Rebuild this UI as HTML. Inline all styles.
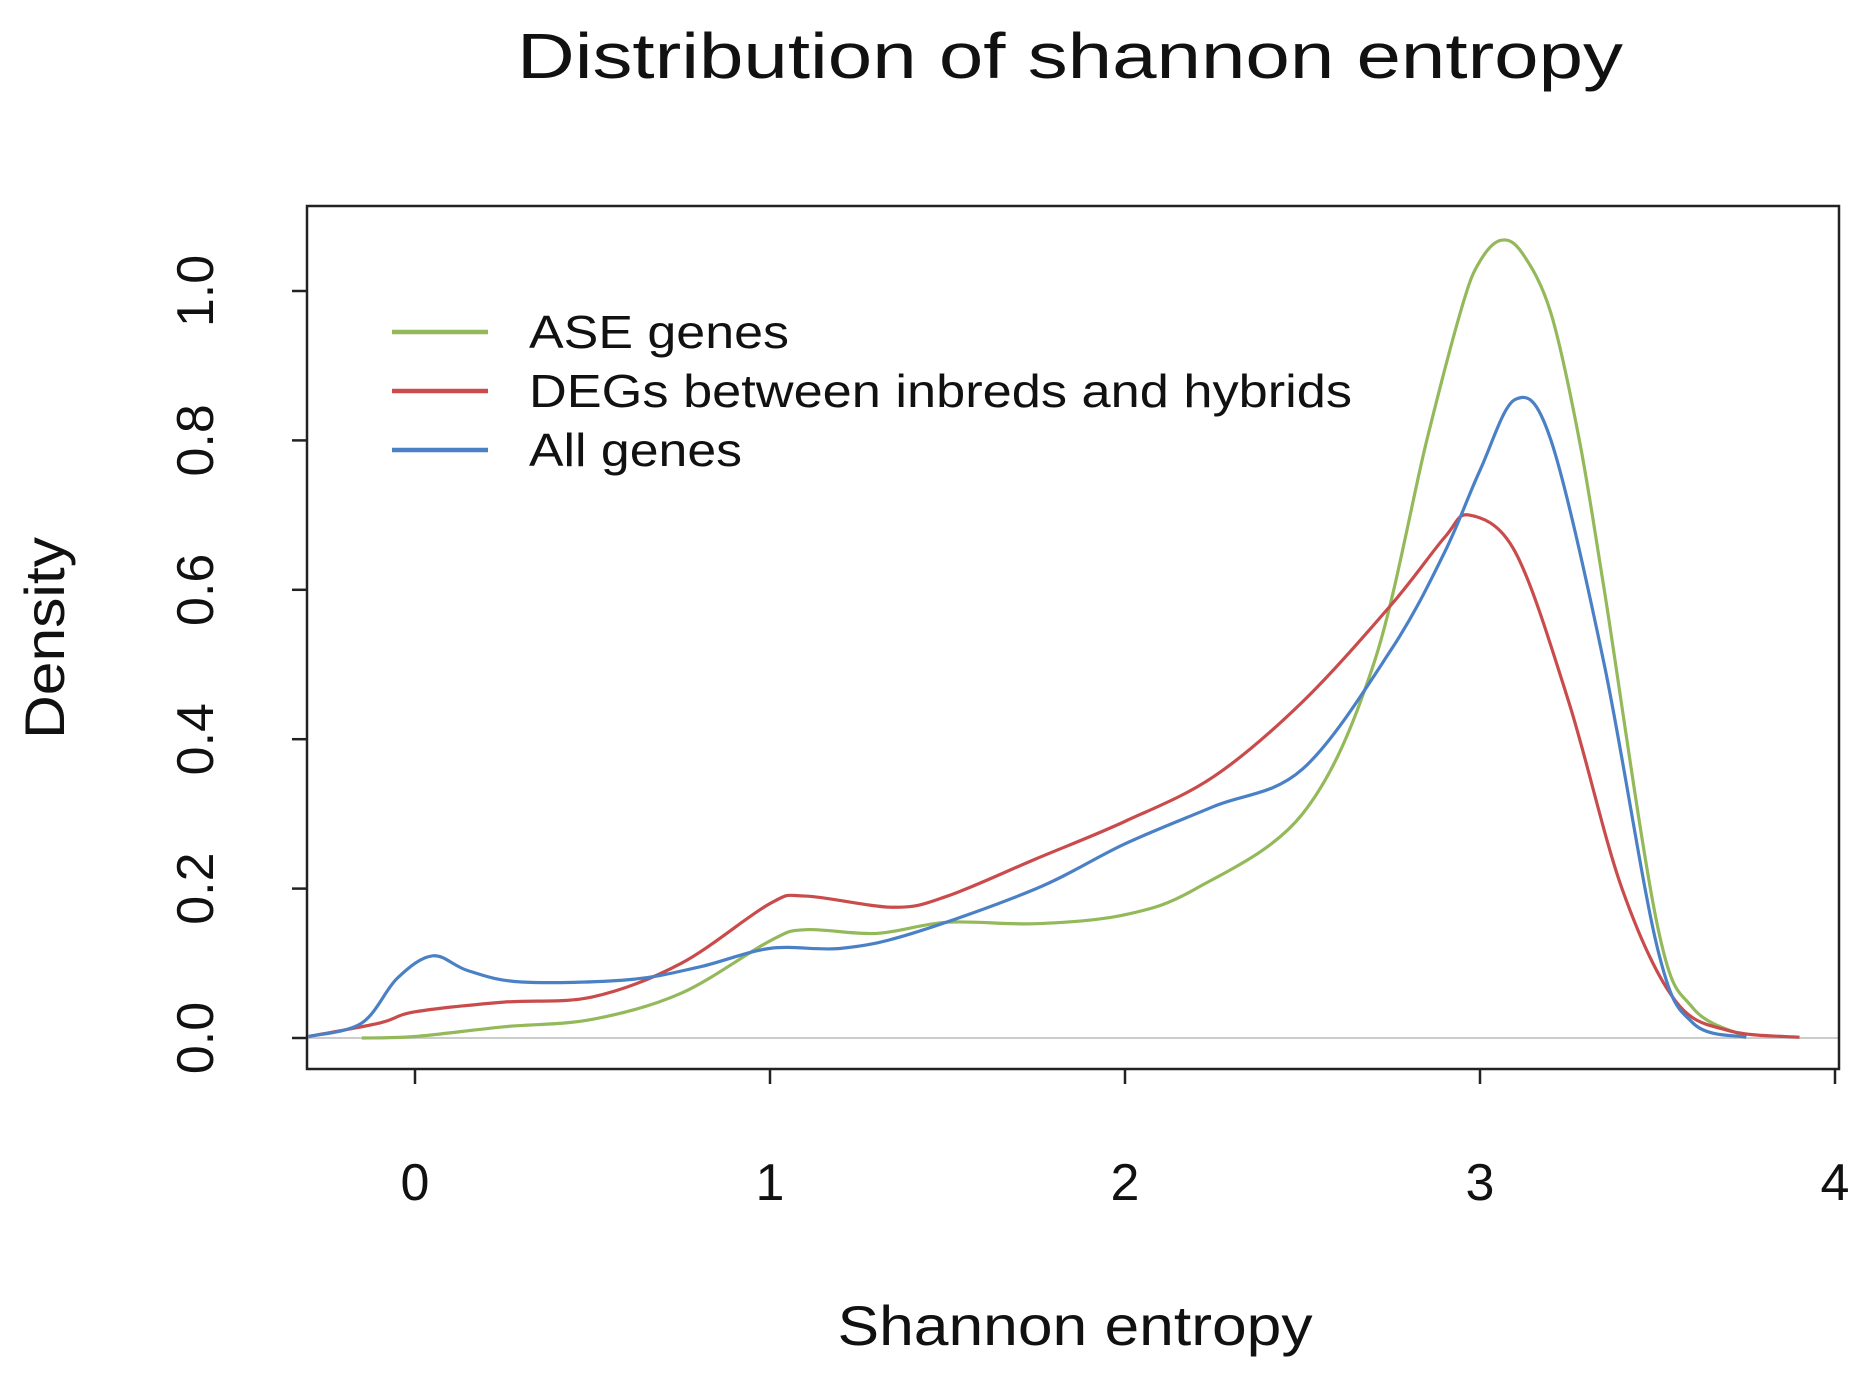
<!DOCTYPE html>
<html><head><meta charset="utf-8"><style>
html,body{margin:0;padding:0;background:#fff;}
svg{display:block;font-family:"Liberation Sans",Arial,sans-serif;}
</style></head><body>
<svg id="chart" width="1859" height="1375" viewBox="0 0 1859 1375">
<text x="1070" y="78" font-size="64" text-anchor="middle" fill="#111" textLength="1106" lengthAdjust="spacingAndGlyphs">Distribution of shannon entropy</text>
<g id="axes"></g>
<g id="series"></g>
<rect x="307" y="206" width="1532" height="863" fill="none" stroke="#222" stroke-width="2.5"/>
<text x="1075" y="1345" font-size="56" text-anchor="middle" fill="#111" textLength="475" lengthAdjust="spacingAndGlyphs">Shannon entropy</text>
<text transform="translate(64,638) rotate(-90)" font-size="56" text-anchor="middle" fill="#111" textLength="202" lengthAdjust="spacingAndGlyphs">Density</text>
<g id="legend"></g>
</svg>
<script>
const xTicks=[0,1,2,3,4];
const yTicks=[0.0,0.2,0.4,0.6,0.8,1.0];
const yTickLabels=["0.0","0.2","0.4","0.6","0.8","1.0"];
const seriesNames=["ASE genes","DEGs between inbreds and hybrids","All genes"];
const seriesColors=["#93b95a","#c94b4b","#4a80c6"];
const aseX=[-0.15,0,0.25,0.5,0.75,1.0,1.1,1.3,1.5,1.75,2.0,2.2,2.5,2.7,2.85,2.95,3.0,3.06,3.12,3.2,3.28,3.35,3.5,3.6,3.75];
const aseY=[0,0.002,0.015,0.025,0.06,0.13,0.145,0.14,0.155,0.153,0.165,0.2,0.3,0.5,0.8,0.98,1.04,1.068,1.05,0.97,0.8,0.6,0.15,0.04,0.002];
const degX=[-0.3,-0.1,0,0.25,0.5,0.75,1.0,1.1,1.35,1.5,1.75,2.0,2.25,2.5,2.75,2.9,2.97,3.1,3.25,3.4,3.55,3.7,3.9];
const degY=[0.002,0.02,0.035,0.048,0.055,0.1,0.18,0.19,0.175,0.19,0.24,0.29,0.35,0.45,0.58,0.67,0.70,0.65,0.45,0.2,0.05,0.01,0.001];
const allX=[-0.3,-0.15,-0.05,0.05,0.15,0.3,0.6,0.8,1.0,1.2,1.4,1.75,2.0,2.25,2.5,2.75,2.9,3.0,3.1,3.2,3.35,3.5,3.6,3.75];
const allY=[0.002,0.02,0.08,0.11,0.09,0.075,0.078,0.095,0.12,0.12,0.14,0.2,0.26,0.31,0.36,0.52,0.65,0.76,0.855,0.8,0.5,0.12,0.02,0.001];

const NS="http://www.w3.org/2000/svg";
const X=v=>415+v*355, Y=v=>1038-v*747;
const axes=document.getElementById('axes'), ser=document.getElementById('series'), leg=document.getElementById('legend');
function mk(tag,attrs,parent){const e=document.createElementNS(NS,tag);for(const k in attrs)e.setAttribute(k,attrs[k]);parent.appendChild(e);return e;}

const base=mk('line',{x1:307,x2:1839,y1:Y(0),y2:Y(0),stroke:'#ccc','stroke-width':2},axes);


xTicks.forEach(t=>{
  const l=mk('line',{x1:X(t),x2:X(t),y1:1069,y2:1084,stroke:'#222','stroke-width':2.5},axes);
  
  
  const tx=mk('text',{x:X(t),y:1200,'font-size':52,'text-anchor':'middle',fill:'#111'},axes);
  tx.textContent=String(t);
  
  
});
yTicks.forEach((t,i)=>{
  const l=mk('line',{x1:292,x2:307,y1:Y(t),y2:Y(t),stroke:'#222','stroke-width':2.5},axes);
  
  
  const tx=mk('text',{transform:`translate(213,${Y(t)}) rotate(-90)`,'font-size':52,'text-anchor':'middle',fill:'#111'},axes);
  tx.textContent=yTickLabels[i];
  
  
});
function pathOf(xs,ys){
  const p=xs.map((x,i)=>[X(x),Y(ys[i])]);
  let d=`M${p[0][0]},${p[0][1]}`;
  for(let i=0;i<p.length-1;i++){
    const p0=p[Math.max(0,i-1)],p1=p[i],p2=p[i+1],p3=p[Math.min(p.length-1,i+2)];
    const c1=[p1[0]+(p2[0]-p0[0])/6,p1[1]+(p2[1]-p0[1])/6];
    const c2=[p2[0]-(p3[0]-p1[0])/6,p2[1]-(p3[1]-p1[1])/6];
    d+=` C${c1[0]},${c1[1]} ${c2[0]},${c2[1]} ${p2[0]},${p2[1]}`;
  }
  return d;
}
const data=[[aseX,aseY,'ase-genes-curve'],[degX,degY,'degs-curve'],[allX,allY,'all-genes-curve']];
data.forEach((s,i)=>{
  const pth=mk('path',{d:pathOf(s[0],s[1]),fill:'none',stroke:seriesColors[i],'stroke-width':3.2},ser);
  
  
});
const legLens=[260,823,213];
seriesNames.forEach((n,i)=>{
  const y=332+i*59;
  const l=mk('line',{x1:392,x2:488,y1:y,y2:y,stroke:seriesColors[i],'stroke-width':4.5},leg);
  
  
  const t=mk('text',{x:529,y:y+16,'font-size':46,fill:'#111',textLength:legLens[i],lengthAdjust:'spacingAndGlyphs'},leg);
  t.textContent=n;
  
  
});
</script>
</body></html>
